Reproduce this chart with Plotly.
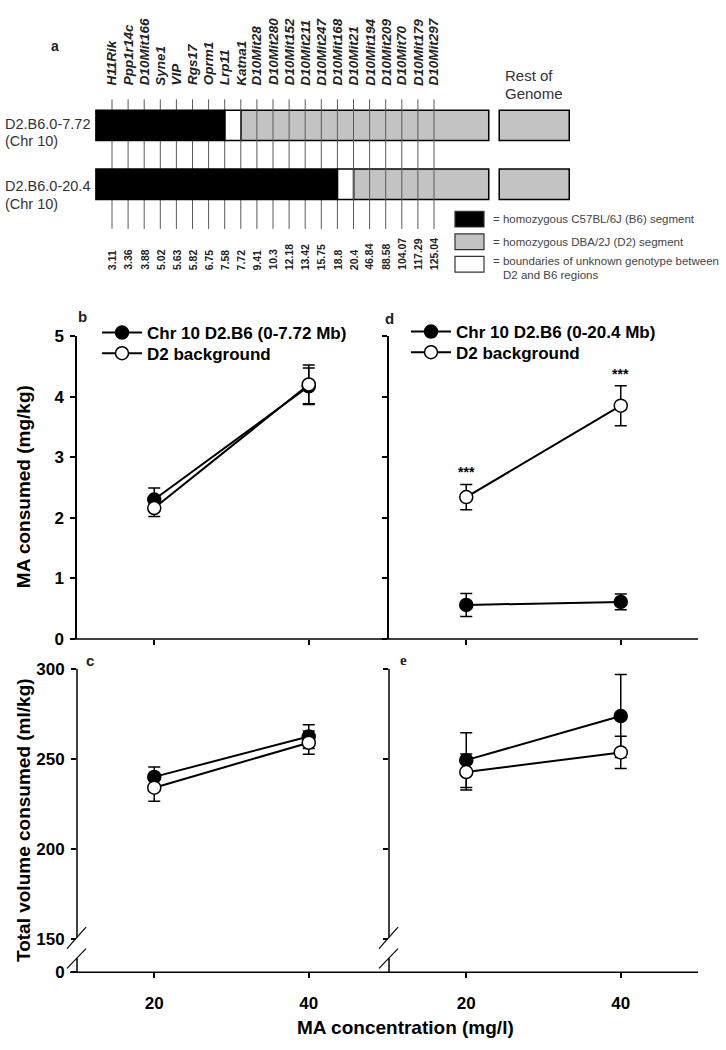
import plotly.graph_objects as go

W, H = 726, 1050
FONT = "Liberation Sans, Arial, sans-serif"
SERIF = "Liberation Serif, Times New Roman, serif"


def px(x):
    return x / W


def py(y):
    return 1 - y / H


# ---------------- Panel a data ----------------
markers = ["H11Rik", "Ppp1r14c", "D10Mit166", "Syne1", "VIP", "Rgs17", "Oprm1",
           "Lrp11", "Katna1", "D10Mit28", "D10Mit280", "D10Mit152", "D10Mit211",
           "D10Mit247", "D10Mit168", "D10Mit21", "D10Mit194", "D10Mit209",
           "D10Mit70", "D10Mit179", "D10Mit297"]
positions_mb = ["3.11", "3.36", "3.88", "5.02", "5.63", "5.82", "6.75", "7.58",
                "7.72", "9.41", "10.3", "12.18", "13.42", "15.75", "18.8", "20.4",
                "46.84", "88.58", "104.07", "117.29", "125.04"]
strains = ["D2.B6.0-7.72", "D2.B6.0-20.4"]
strain_chr = ["(Chr 10)", "(Chr 10)"]
last_b6_marker = ["Lrp11", "D10Mit168"]
first_d2_marker = ["Katna1", "D10Mit21"]
genotype_legend = ["= homozygous C57BL/6J (B6) segment",
                   "= homozygous DBA/2J (D2) segment",
                   "= boundaries of unknown genotype between",
                   "D2 and B6 regions"]

# ---------------- Panels b-e data ----------------
conc = [20, 40]
names_b = ["Chr 10 D2.B6 (0-7.72 Mb)", "D2 background"]
names_d = ["Chr 10 D2.B6 (0-20.4 Mb)", "D2 background"]

b_cong = [2.30, 4.17]
b_cong_sem = [0.19, 0.30]
b_bg = [2.16, 4.20]
b_bg_sem = [0.14, 0.32]

d_cong = [0.56, 0.61]
d_cong_sem = [0.19, 0.13]
d_bg = [2.34, 3.85]
d_bg_sem = [0.21, 0.33]

c_cong = [240.0, 262.4]
c_cong_sem = [5.5, 6.6]
c_bg = [234.0, 259.0]
c_bg_sem = [7.6, 6.5]

e_cong = [249.3, 273.8]
e_cong_sem = [15.2, 23.0]
e_bg = [242.7, 253.6]
e_bg_sem = [10.0, 9.0]

d_signif = ["***", "***"]

ma_ticks = [0, 1, 2, 3, 4, 5]
vol_ticks = [150, 200, 250, 300]
VOL_ZERO_POS = 131.5  # where the broken axis shows "0"

fig = go.Figure()

# ---------------- layout geometry (pixels) ----------------
A_X0, A_DX = 112.0, 16.1          # marker 0 pixel x, pixels per marker
LEFT_X0, LEFT_X1 = 77, 386
RIGHT_X0, RIGHT_X1 = 389, 698
TOP_Y0, TOP_Y1 = 333, 641.5
BOT_Y0, BOT_Y1 = 672, 981


def add_series(xa, ya, name, vals, sems, filled, legend, showlegend):
    fig.add_trace(go.Scatter(
        x=conc, y=vals, mode="lines+markers", name=name,
        xaxis=xa, yaxis=ya, legend=legend, showlegend=showlegend,
        line=dict(color="black", width=2),
        marker=dict(symbol="circle", size=13,
                    color="black" if filled else "white",
                    line=dict(color="black", width=1.5)),
        error_y=dict(type="data", array=sems, visible=True, color="black",
                     thickness=1.5, width=6),
        cliponaxis=False, hoverinfo="skip"))


add_series("x", "y", names_b[0], b_cong, b_cong_sem, True, "legend", True)
add_series("x", "y", names_b[1], b_bg, b_bg_sem, False, "legend2", True)
add_series("x2", "y2", names_d[0], d_cong, d_cong_sem, True, "legend3", True)
add_series("x2", "y2", names_d[1], d_bg, d_bg_sem, False, "legend4", True)
add_series("x3", "y3", names_b[0], c_cong, c_cong_sem, True, "legend", False)
add_series("x3", "y3", names_b[1], c_bg, c_bg_sem, False, "legend2", False)
add_series("x4", "y4", names_d[0], e_cong, e_cong_sem, True, "legend3", False)
add_series("x4", "y4", names_d[1], e_bg, e_bg_sem, False, "legend4", False)

tickfont = dict(family=FONT, size=17, color="black", weight="bold")
xbase = dict(range=[10, 50], tickvals=conc, ticktext=[str(c) for c in conc],
             showgrid=False, zeroline=False, showline=False, ticks="outside",
             ticklen=5, tickwidth=1.5, tickcolor="black", tickfont=tickfont,
             ticklabelstandoff=10)
ybase = dict(showgrid=False, zeroline=False, ticks="outside", ticklen=5,
             tickwidth=1.5, tickcolor="black", tickfont=tickfont,
             linecolor="black", linewidth=1.5, ticklabelstandoff=3)

fig.update_layout(
    xaxis=dict(xbase, domain=[px(LEFT_X0), px(LEFT_X1)], anchor="y", showticklabels=False),
    xaxis2=dict(xbase, domain=[px(RIGHT_X0), px(RIGHT_X1)], anchor="y2", showticklabels=False),
    xaxis3=dict(xbase, domain=[px(LEFT_X0), px(LEFT_X1)], anchor="y3"),
    xaxis4=dict(xbase, domain=[px(RIGHT_X0), px(RIGHT_X1)], anchor="y4"),
    yaxis=dict(ybase, domain=[py(TOP_Y1), py(TOP_Y0)], range=[0, 5], anchor="x",
               tickvals=ma_ticks, showline=True),
    yaxis2=dict(ybase, domain=[py(TOP_Y1), py(TOP_Y0)], range=[0, 5], anchor="x2",
                tickvals=ma_ticks, showline=True, showticklabels=False),
    yaxis3=dict(ybase, domain=[py(BOT_Y1), py(BOT_Y0)], range=[VOL_ZERO_POS, 300],
                anchor="x3", tickvals=[VOL_ZERO_POS] + vol_ticks,
                ticktext=["0"] + [str(v) for v in vol_ticks], showline=False),
    yaxis4=dict(ybase, domain=[py(BOT_Y1), py(BOT_Y0)], range=[VOL_ZERO_POS, 300],
                anchor="x4", tickvals=vol_ticks, showline=False, showticklabels=False),
    xaxis5=dict(domain=[0, 1], range=[(0 - A_X0) / A_DX, (W - A_X0) / A_DX],
                visible=False, anchor="y5"),
    yaxis5=dict(domain=[py(280), 1], range=[280, 0], visible=False, anchor="x5"),
)

shapes = []
annotations = []

# ---------------- Panel a: genotype bars ----------------
bar_left = -1.0
bar_right = 23.4
rest_left, rest_right = 24.05, 28.4
bar_tops = [103, 163]
bar_h = 31
label_dy = [(14, 31), (17, 36)]
for k in range(len(strains)):
    y0 = bar_tops[k]
    y1 = y0 + bar_h
    b6_end = markers.index(last_b6_marker[k])
    d2_start = markers.index(first_d2_marker[k])
    shapes.append(dict(type="rect", xref="x5", yref="y5", x0=d2_start, x1=bar_right,
                       y0=y0, y1=y1, fillcolor="#c3c3c3",
                       line=dict(color="black", width=1.5), layer="above"))
    shapes.append(dict(type="rect", xref="x5", yref="y5", x0=b6_end, x1=d2_start,
                       y0=y0, y1=y1, fillcolor="white",
                       line=dict(color="black", width=1.5), layer="above"))
    shapes.append(dict(type="rect", xref="x5", yref="y5", x0=rest_left, x1=rest_right,
                       y0=y0, y1=y1, fillcolor="#c3c3c3",
                       line=dict(color="black", width=1.5), layer="above"))
    annotations.append(dict(xref="paper", yref="y5", x=px(3), y=y0 + label_dy[k][0],
                            xanchor="left", yanchor="middle", showarrow=False,
                            text=strains[k], font=dict(family=FONT, size=14.5, color="#333")))
    annotations.append(dict(xref="paper", yref="y5", x=px(3), y=y0 + label_dy[k][1],
                            xanchor="left", yanchor="middle", showarrow=False,
                            text=strain_chr[k], font=dict(family=FONT, size=14.5, color="#333")))

for i, m in enumerate(markers):
    shapes.append(dict(type="line", xref="x5", yref="y5", x0=i, x1=i, y0=92, y1=224,
                       line=dict(color="#5a5a5a", width=1), layer="above"))
    annotations.append(dict(xref="x5", yref="y5", x=i, y=80, textangle=-90,
                            xanchor="center", yanchor="bottom", showarrow=False,
                            text="<b><i>%s</i></b>" % m,
                            font=dict(family=FONT, size=13.5, color="#222")))
    annotations.append(dict(xref="x5", yref="y5", x=i, y=268, textangle=-90,
                            xanchor="center", yanchor="bottom", showarrow=False,
                            text="<b>%s</b>" % positions_mb[i],
                            font=dict(family=FONT, size=10.5, color="#222")))

for k in range(len(strains)):
    y0 = bar_tops[k]
    b6_end = markers.index(last_b6_marker[k])
    shapes.append(dict(type="rect", xref="x5", yref="y5", x0=bar_left, x1=b6_end,
                       y0=y0, y1=y0 + bar_h, fillcolor="black",
                       line=dict(color="black", width=1.5), layer="above"))

annotations.append(dict(xref="paper", yref="paper", x=px(503), y=py(68), xanchor="left",
                        yanchor="middle", showarrow=False, text="Rest of",
                        font=dict(family=FONT, size=15, color="#333")))
annotations.append(dict(xref="paper", yref="paper", x=px(503), y=py(86), xanchor="left",
                        yanchor="middle", showarrow=False, text="Genome",
                        font=dict(family=FONT, size=15, color="#333")))
annotations.append(dict(xref="paper", yref="paper", x=px(55), y=py(38), xanchor="center",
                        yanchor="middle", showarrow=False, text="<b>a</b>",
                        font=dict(family=FONT, size=14, color="#222")))

key_fill = ["black", "#c3c3c3", "white"]
key_y = [(206, 222), (229, 245), (252, 268)]
for (y0, y1), fc in zip(key_y, key_fill):
    shapes.append(dict(type="rect", xref="paper", yref="paper", x0=px(455), x1=px(484),
                       y0=py(y1), y1=py(y0), fillcolor=fc,
                       line=dict(color="#333", width=1.2)))
key_text_pos = [(491, 214), (491, 237), (491, 257), (501, 271)]
for (tx, ty), t in zip(key_text_pos, genotype_legend):
    annotations.append(dict(xref="paper", yref="paper", x=px(tx), y=py(ty), xanchor="left",
                            yanchor="middle", showarrow=False, text=t,
                            font=dict(family=FONT, size=11.5, color="#444")))

# ---------------- Panels b-e decorations ----------------
for yy in (TOP_Y1, BOT_Y1):
    shapes.append(dict(type="line", xref="paper", yref="paper", x0=px(70), x1=px(698),
                       y0=py(yy), y1=py(yy), line=dict(color="black", width=1.5)))
for ax_x in (LEFT_X0, RIGHT_X0):
    shapes.append(dict(type="line", xref="paper", yref="paper", x0=px(ax_x), x1=px(ax_x),
                       y0=py(BOT_Y0), y1=py(945.5), line=dict(color="black", width=1.5)))
    shapes.append(dict(type="line", xref="paper", yref="paper", x0=px(ax_x), x1=px(ax_x),
                       y0=py(966.5), y1=py(BOT_Y1), line=dict(color="black", width=1.5)))
    for (sy0, sy1) in ((957, 935), (977, 957)):
        shapes.append(dict(type="line", xref="paper", yref="paper", x0=px(ax_x - 10),
                           x1=px(ax_x + 9), y0=py(sy0), y1=py(sy1),
                           line=dict(color="black", width=1.2)))

for letter, (lx, ly), fam in zip(["b", "d", "c", "e"],
                                 [(82, 313), (389, 315), (90, 663), (403, 663)],
                                 [FONT, FONT, FONT, SERIF]):
    annotations.append(dict(xref="paper", yref="paper", x=px(lx), y=py(ly),
                            xanchor="center", yanchor="middle", showarrow=False,
                            text="<b>%s</b>" % letter,
                            font=dict(family=fam, size=15, color="#222")))

for xv, yv, sv, s in zip(conc, d_bg, d_bg_sem, d_signif):
    annotations.append(dict(xref="x2", yref="y2", x=xv, y=yv + sv, yshift=2,
                            xanchor="center", yanchor="bottom", showarrow=False,
                            text="<b>%s</b>" % s, font=dict(family=FONT, size=14, color="black")))

annotations.append(dict(xref="paper", yref="paper", x=px(23), y=py(487), textangle=-90,
                        xanchor="center", yanchor="middle", showarrow=False,
                        text="<b>MA consumed (mg/kg)</b>",
                        font=dict(family=FONT, size=19, color="black")))
annotations.append(dict(xref="paper", yref="paper", x=px(23), y=py(826), textangle=-90,
                        xanchor="center", yanchor="middle", showarrow=False,
                        text="<b>Total volume consumed (ml/kg)</b>",
                        font=dict(family=FONT, size=19, color="black")))
annotations.append(dict(xref="paper", yref="paper", x=px(405), y=py(1037),
                        xanchor="center", yanchor="middle", showarrow=False,
                        text="<b>MA concentration (mg/l)</b>",
                        font=dict(family=FONT, size=19, color="black")))

legend_style = dict(xanchor="left", yanchor="middle", bgcolor="rgba(0,0,0,0)",
                    borderwidth=0, itemwidth=40, tracegroupgap=0,
                    font=dict(family=FONT, size=17, color="black", weight="bold"))
fig.update_layout(
    width=W, height=H, autosize=False,
    margin=dict(l=0, r=0, t=0, b=0),
    paper_bgcolor="white", plot_bgcolor="white",
    shapes=shapes, annotations=annotations,
    legend=dict(legend_style, x=px(97), y=py(330)),
    legend2=dict(legend_style, x=px(97), y=py(351)),
    legend3=dict(legend_style, x=px(406), y=py(329)),
    legend4=dict(legend_style, x=px(406), y=py(350)),
)

fig.write_html("out.html", config={"displayModeBar": False},
               post_script="document.body.style.margin='0';document.body.style.overflow='hidden';")
